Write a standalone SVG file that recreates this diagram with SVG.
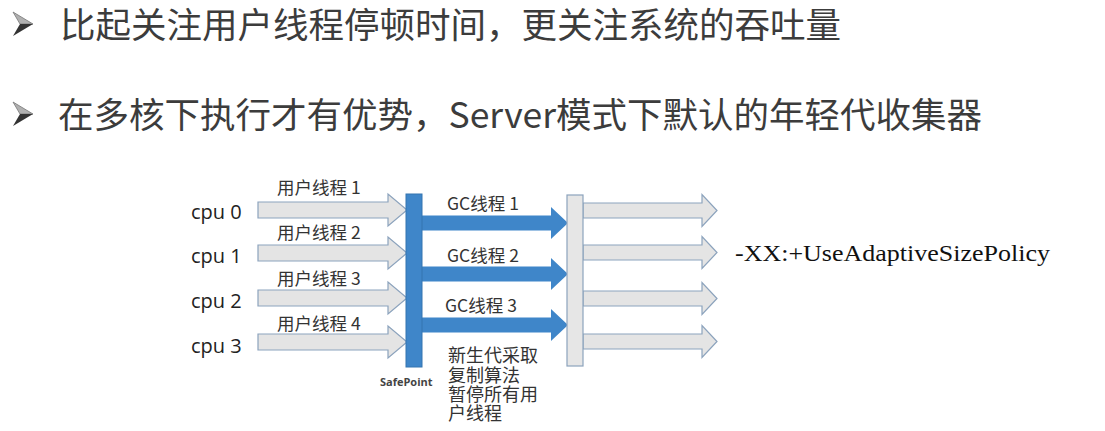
<svg xmlns="http://www.w3.org/2000/svg" width="1105" height="431" viewBox="0 0 1105 431">
<defs>
<style>
.head{font-family:"Noto Sans CJK SC","Noto Sans",sans-serif;font-size:35.5px;fill:#3c3c3c}
.cpu{font-family:"Open Sans","Noto Sans",sans-serif;font-size:20px;fill:#222}
.lbl{font-family:"Noto Sans CJK SC","Open Sans",sans-serif;font-size:17.5px;fill:#333}
.note{font-family:"Noto Sans CJK SC",sans-serif;font-size:18px;fill:#333}
.sp{font-family:"Open Sans","Liberation Sans",sans-serif;font-size:11px;font-weight:bold;fill:#444}
.opt{font-family:"Liberation Serif",serif;font-size:23px;fill:#111}
.garrow{fill:#e4e4e4;stroke:#8ca3bd;stroke-width:1.2}
.barrow{fill:#3f86c9}
.gbar{fill:#e6e6e6;stroke:#8ca3bd;stroke-width:1.2}
.bbar{fill:#3f86c9;stroke:#3574b0;stroke-width:1}
</style>
<path id="ga" d="M0,-8 H130 V-16 L149,0 L130,16 V8 H0 Z"/>
<path id="gb" d="M0,-7.5 H119 V-16 L134,0 L119,16 V7.5 H0 Z"/>
<path id="ba" d="M0,-7.5 H129 V-16 L146,0 L129,16 V7.5 H0 Z"/>
</defs>

<g id="bullets">
<polygon points="13,12 33,24 20,24" fill="#b0b0b0" stroke="#777" stroke-width="0.8"/>
<polygon points="20,24 33,24 13,36" fill="#333"/>
<polygon points="13,102 33,114 20,114" fill="#b0b0b0" stroke="#777" stroke-width="0.8"/>
<polygon points="20,114 33,114 13,126" fill="#333"/>
</g>
<g id="title1"><text class="head" x="60" y="38">比起关注用户线程停顿时间，更关注系统的吞吐量</text></g>
<g id="title2"><text class="head" x="58" y="128">在多核下执行才有优势，Server模式下默认的年轻代收集器</text></g>

<g id="cpus">
<text class="cpu" x="191" y="219">cpu 0</text>
<text class="cpu" x="191" y="263">cpu 1</text>
<text class="cpu" x="191" y="308">cpu 2</text>
<text class="cpu" x="191" y="353">cpu 3</text>
</g>

<g id="connectors">
<use href="#ga" class="garrow" x="258" y="210"/>
<use href="#ga" class="garrow" x="258" y="253"/>
<use href="#ga" class="garrow" x="258" y="298"/>
<use href="#ga" class="garrow" x="258" y="342"/>
<use href="#ba" class="barrow" x="422" y="223"/>
<use href="#ba" class="barrow" x="422" y="274"/>
<use href="#ba" class="barrow" x="422" y="325"/>
<use href="#gb" class="garrow" x="583" y="210.5"/>
<use href="#gb" class="garrow" x="583" y="252.5"/>
<use href="#gb" class="garrow" x="583" y="298.5"/>
<use href="#gb" class="garrow" x="583" y="341.5"/>
</g>

<g id="user-labels">
<text class="lbl" x="277" y="194">用户线程 1</text>
<text class="lbl" x="277" y="239">用户线程 2</text>
<text class="lbl" x="277" y="285">用户线程 3</text>
<text class="lbl" x="277" y="330">用户线程 4</text>
</g>

<g id="safepoint">
<rect class="bbar" x="406" y="194" width="16" height="173"/>
<text class="sp" x="380" y="386">SafePoint</text>
</g>

<g id="gc-labels">
<text class="lbl" x="447" y="210">GC线程 1</text>
<text class="lbl" x="447" y="262">GC线程 2</text>
<text class="lbl" x="445" y="312">GC线程 3</text>
</g>

<g id="note">
<text class="note" x="448" y="362">新生代采取</text>
<text class="note" x="448" y="382">复制算法</text>
<text class="note" x="448" y="401">暂停所有用</text>
<text class="note" x="448" y="420">户线程</text>
</g>

<g id="resume-bar">
<rect class="gbar" x="567" y="195" width="16" height="171"/>
</g>

<g id="option">
<text class="opt" x="735" y="261" textLength="315" lengthAdjust="spacingAndGlyphs">-XX:+UseAdaptiveSizePolicy</text>
</g>
</svg>
